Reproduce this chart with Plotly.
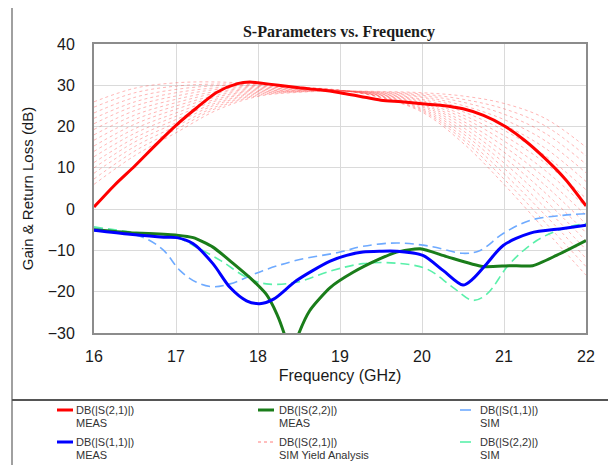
import plotly.graph_objects as go

# ---------------- data ----------------
s21_meas_f = [16.0, 16.25, 16.5, 16.75, 17.0, 17.25, 17.5, 17.75, 17.9, 18.0, 18.25, 18.5, 18.75,
              19.0, 19.25, 19.5, 19.75, 20.0, 20.25, 20.5, 20.75, 21.0, 21.25, 21.5, 21.75, 22.0]
s21_meas_db = [0.5, 5.8, 10.5, 15.5, 20.3, 24.5, 28.3, 30.4, 30.8, 30.6, 30.0, 29.4, 28.9,
               28.2, 27.3, 26.4, 26.0, 25.5, 25.1, 24.3, 22.7, 20.2, 16.7, 12.3, 7.2, 0.8]

s11_meas_f = [16.0, 16.44, 16.85, 17.01, 17.21, 17.45, 17.66, 17.86, 18.02, 18.19, 18.47, 18.88,
              19.08, 19.28, 19.49, 19.69, 20.01, 20.26, 20.5, 20.62, 20.79, 20.99, 21.32, 21.72, 22.0]
s11_meas_db = [-5.1, -6.1, -6.8, -6.9, -8.4, -13.2, -19.0, -22.2, -22.9, -21.8, -17.3, -12.6,
               -11.2, -10.4, -10.2, -10.2, -11.2, -14.9, -18.4, -16.9, -13.2, -8.8, -5.8, -4.7, -3.9]

s22_meas_f = [16.0, 16.44, 17.01, 17.21, 17.45, 17.7, 17.94, 18.1, 18.23, 18.32, 18.4, 18.49, 18.63,
              18.88, 19.16, 19.49, 19.69, 19.98, 20.3, 20.74, 21.07, 21.35, 21.64, 22.0]
s22_meas_db = [-5.0, -5.7, -6.3, -6.9, -9.2, -13.2, -17.3, -20.6, -25.4, -30.2, -36.0, -30.5, -24.6,
               -19.0, -15.3, -12.0, -10.4, -9.6, -11.5, -13.9, -13.7, -13.7, -11.2, -7.6]

s11_sim_f = [16.0, 16.44, 16.64, 16.85, 17.05, 17.25, 17.45, 17.66, 18.06, 18.47, 19.0, 19.28,
             19.69, 20.1, 20.5, 20.71, 20.99, 21.32, 21.72, 22.0]
s11_sim_db = [-4.5, -5.9, -7.2, -10.0, -14.9, -17.7, -18.8, -18.1, -14.9, -12.4, -10.4, -9.0,
              -8.2, -9.0, -10.7, -10.0, -5.9, -2.7, -1.5, -1.1]

s22_sim_f = [16.0, 16.44, 17.01, 17.21, 17.54, 17.86, 18.1, 18.47, 18.88, 19.28, 19.69, 20.06,
             20.38, 20.62, 20.79, 21.07, 21.4, 21.72, 22.0]
s22_sim_db = [-4.3, -5.5, -6.8, -8.8, -12.4, -16.5, -18.1, -17.7, -15.0, -13.2, -13.1, -14.5,
              -19.0, -22.1, -20.6, -13.2, -7.6, -4.7, -3.5]

yield_f = [16.0, 16.5, 17.0, 17.5, 18.0, 18.5, 19.0, 19.5, 20.0, 20.5, 21.0, 21.5, 22.0]
yield_s21_db = [
    [26.0, 29.3, 30.6, 30.8, 30.3, 29.6, 28.8, 27.0, 23.5, 16.0, 6.0, -5.0, -16.0],
    [24.7, 28.2, 29.8, 30.3, 30.1, 29.5, 28.8, 27.1, 23.8, 16.8, 7.3, -3.2, -13.9],
    [23.3, 27.1, 29.0, 29.9, 29.9, 29.4, 28.8, 27.2, 24.1, 17.5, 8.6, -1.4, -11.9],
    [22.0, 26.0, 28.2, 29.4, 29.7, 29.3, 28.8, 27.3, 24.4, 18.3, 9.9, 0.4, -9.8],
    [20.7, 25.0, 27.4, 29.0, 29.5, 29.3, 28.7, 27.4, 24.8, 19.0, 11.2, 2.2, -7.7],
    [19.3, 23.9, 26.6, 28.5, 29.3, 29.2, 28.7, 27.5, 25.1, 19.8, 12.5, 4.0, -5.7],
    [18.0, 22.8, 25.8, 28.1, 29.1, 29.1, 28.7, 27.6, 25.4, 20.6, 13.8, 5.8, -3.6],
    [16.7, 21.7, 25.0, 27.6, 28.9, 29.0, 28.7, 27.7, 25.7, 21.3, 15.2, 7.6, -1.5],
    [15.3, 20.6, 24.2, 27.2, 28.7, 28.9, 28.7, 27.8, 26.0, 22.1, 16.5, 9.4, 0.5],
    [14.0, 19.5, 23.3, 26.7, 28.5, 28.8, 28.7, 27.9, 26.3, 22.8, 17.8, 11.2, 2.6],
    [12.7, 18.4, 22.5, 26.3, 28.3, 28.7, 28.7, 28.0, 26.6, 23.6, 19.1, 13.0, 4.7],
    [11.3, 17.3, 21.7, 25.8, 28.1, 28.6, 28.7, 28.1, 27.0, 24.4, 20.4, 14.8, 6.7],
    [10.0, 16.3, 20.9, 25.4, 27.9, 28.6, 28.6, 28.2, 27.3, 25.1, 21.7, 16.6, 8.8],
    [8.7, 15.2, 20.1, 24.9, 27.7, 28.5, 28.6, 28.3, 27.6, 25.9, 23.0, 18.4, 10.9],
    [7.3, 14.1, 19.3, 24.5, 27.5, 28.4, 28.6, 28.4, 27.9, 26.6, 24.3, 20.2, 12.9],
    [6.0, 13.0, 18.5, 24.0, 27.3, 28.3, 28.6, 28.5, 28.2, 27.4, 25.6, 22.0, 15.0],
]

x_ticks = [16, 17, 18, 19, 20, 21, 22]
y_ticks = [-30, -20, -10, 0, 10, 20, 30, 40]

legend_rows = [
    ("DB(|S(2,1)|)", "MEAS"), ("DB(|S(2,2)|)", "MEAS"), ("DB(|S(1,1)|)", "SIM"),
    ("DB(|S(1,1)|)", "MEAS"), ("DB(|S(2,1)|)", "SIM Yield Analysis"), ("DB(|S(2,2)|)", "SIM"),
]

# ---------------- styles ----------------
RED = "#ff0000"
BLUE = "#0000ff"
GREEN = "#1a7d1a"
LBLUE = "rgb(110,170,255)"
AQUA = "rgb(90,240,170)"
YIELD = "rgba(255,70,70,0.40)"

fig = go.Figure()
for curve in yield_s21_db:
    fig.add_trace(go.Scatter(x=yield_f, y=curve, mode="lines", hoverinfo="skip",
                             line=dict(color=YIELD, width=1, dash="dot", shape="spline")))

fig.add_trace(go.Scatter(x=s11_sim_f, y=s11_sim_db, mode="lines",
                         line=dict(color=LBLUE, width=1.6, dash="9px,5px", shape="spline")))
fig.add_trace(go.Scatter(x=s22_sim_f, y=s22_sim_db, mode="lines",
                         line=dict(color=AQUA, width=1.6, dash="9px,5px", shape="spline")))
fig.add_trace(go.Scatter(x=s22_meas_f, y=s22_meas_db, mode="lines",
                         line=dict(color=GREEN, width=3, shape="spline", smoothing=0.6)))
fig.add_trace(go.Scatter(x=s11_meas_f, y=s11_meas_db, mode="lines",
                         line=dict(color=BLUE, width=3, shape="spline", smoothing=0.8)))
fig.add_trace(go.Scatter(x=s21_meas_f, y=s21_meas_db, mode="lines",
                         line=dict(color=RED, width=3, shape="spline", smoothing=0.8)))

# the page has an 8px body margin; reference pixel coords are shifted by OFF
OFF = 8
FIG_W, FIG_H = 616 - OFF, 465 - OFF
# plot area in reference pixels: x 94..586, y 44..333
L, R, T, B = 94, 586, 44, 333
W, H = R - L, B - T


def xp(px):
    return (px - L) / W


def yp(py):
    return (B - py) / H


shapes = []
border = "#a0a0a0"
shapes.append(dict(type="line", xref="paper", yref="paper", x0=xp(12), x1=xp(12), y0=yp(480), y1=yp(4),
                   line=dict(color=border, width=2)))
shapes.append(dict(type="line", xref="paper", yref="paper", x0=xp(612), x1=xp(612), y0=yp(480), y1=yp(4),
                   line=dict(color=border, width=2)))
shapes.append(dict(type="line", xref="paper", yref="paper", x0=xp(12), x1=xp(612), y0=yp(4), y1=yp(4),
                   line=dict(color=border, width=2)))
shapes.append(dict(type="line", xref="paper", yref="paper", x0=xp(12), x1=xp(616), y0=yp(400), y1=yp(400),
                   line=dict(color="#555555", width=2)))

legend_styles = [
    dict(color=RED, width=3, dash="solid"),
    dict(color=GREEN, width=3, dash="solid"),
    dict(color=LBLUE, width=1.6, dash="solid"),
    dict(color=BLUE, width=3, dash="solid"),
    dict(color="rgba(255,70,70,0.7)", width=1, dash="dot"),
    dict(color=AQUA, width=1.6, dash="solid"),
]
col_line = [(57, 73), (258, 274), (460, 471)]
col_text = [74, 277, 478]
row_y = [(410, 423), (442, 455)]

annotations = []
for i, (l1, l2) in enumerate(legend_rows):
    r, c = divmod(i, 3)
    x0, x1 = col_line[c]
    y1, y2 = row_y[r]
    shapes.append(dict(type="line", xref="paper", yref="paper", x0=xp(x0), x1=xp(x1), y0=yp(y1), y1=yp(y1),
                       line=legend_styles[i]))
    for txt, yy in ((l1, y1), (l2, y2)):
        annotations.append(dict(text=txt, xref="paper", yref="paper", x=xp(col_text[c]), y=yp(yy),
                                xanchor="left", yanchor="middle", showarrow=False,
                                font=dict(family="Liberation Sans, Arial", size=11, color="#333333")))

fig.update_layout(
    width=FIG_W, height=FIG_H,
    margin=dict(l=L - OFF, r=616 - R, t=T - OFF, b=465 - B),
    paper_bgcolor="white", plot_bgcolor="white",
    showlegend=False,
    title=dict(text="<b>S-Parameters vs. Frequency</b>", x=xp(339), xref="paper",
               y=1 - (31 - OFF) / FIG_H, yref="container", xanchor="center", yanchor="middle",
               font=dict(family="Liberation Serif, Times New Roman", size=16, color="#1a1a1a")),
    shapes=shapes, annotations=annotations,
)
axis_font = dict(family="Liberation Sans, Arial", size=16, color="#1a1a1a")
fig.update_xaxes(range=[16, 22], tickvals=x_ticks, showgrid=True, gridcolor="#dadada", gridwidth=1,
                 showline=True, linecolor="#8c8c8c", linewidth=2, mirror=True, ticks="",
                 zeroline=False, tickfont=axis_font, ticklabelstandoff=8,
                 title=dict(text="Frequency (GHz)", font=dict(family="Liberation Sans, Arial", size=16,
                                                              color="#1a1a1a"), standoff=6))
fig.update_yaxes(range=[-30, 40], tickvals=y_ticks, showgrid=True, gridcolor="#dadada", gridwidth=1,
                 showline=True, linecolor="#8c8c8c", linewidth=2, mirror=True, ticks="",
                 zeroline=False, tickfont=axis_font, ticklabelstandoff=14,
                 title=dict(text="Gain & Return Loss (dB)", font=dict(family="Liberation Sans, Arial", size=15,
                                                                      color="#1a1a1a"), standoff=10))

fig.write_html("out.html")
